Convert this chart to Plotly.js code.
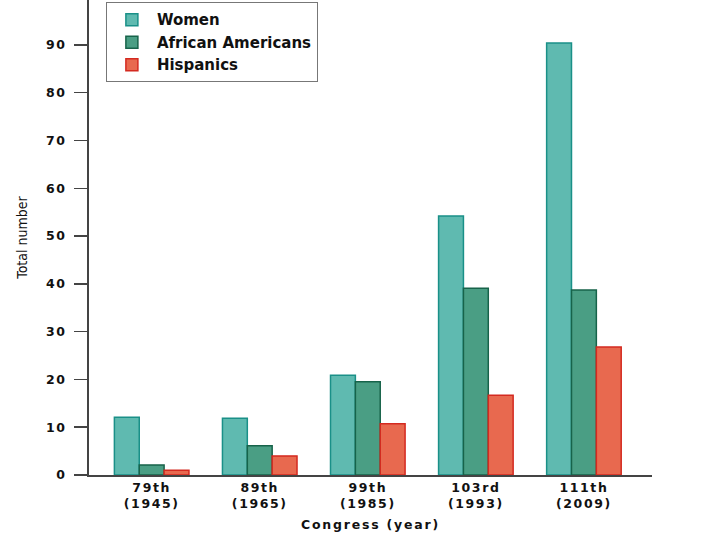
<!DOCTYPE html>
<html><head><meta charset="utf-8">
<script src="https://cdn.plot.ly/plotly-3.0.1.min.js"></script>
<style>
body{margin:0;background:#fff}
#chart .xtick text, #chart .ytick text{letter-spacing:1.6px}
#chart .xtitle{letter-spacing:1.8px}
</style>
</head><body>
<div id="chart" style="width:720px;height:540px"></div>
<script>
const categories = ["79th<br>(1945)", "89th<br>(1965)", "99th<br>(1985)", "103rd<br>(1993)", "111th<br>(2009)"];
const women = [12.1, 11.9, 20.9, 54.2, 90.4];
const africanAmericans = [2.1, 6.1, 19.5, 39.1, 38.7];
const hispanics = [1.0, 4.0, 10.7, 16.7, 26.8];
const yTicks = [0, 10, 20, 30, 40, 50, 60, 70, 80, 90, 100];

const fam = "DejaVu Sans, Verdana, sans-serif";
function series(name, y, fill, edge) {
  return {type: "bar", name: name, x: categories, y: y,
    marker: {color: fill, line: {color: edge, width: 1.5}}};
}
const data = [
  series("<b>Women</b>", women, "#5fbab0", "#1a9088"),
  series("<b>African Americans</b>", africanAmericans, "#4a9e84", "#17634a"),
  series("<b>Hispanics</b>", hispanics, "#e8694f", "#d42a20")
];
const layout = {
  width: 720, height: 540,
  margin: {l: 89, r: 68, t: 0, b: 65},
  paper_bgcolor: "#fff", plot_bgcolor: "#fff",
  barmode: "group", bargap: 0.31, bargroupgap: 0.0,
  font: {family: fam, size: 12, color: "#111"},
  showlegend: true,
  legend: {x: 0.03, y: 0.995, xanchor: "left", yanchor: "top",
    bordercolor: "#777", borderwidth: 1, bgcolor: "#fff",
    font: {family: fam, size: 15, color: "#111"},
    tracegroupgap: 0, itemwidth: 40},
  xaxis: {type: "category", range: [-0.58, 4.63], showline: true, linecolor: "#444", linewidth: 2,
    ticks: "", showgrid: false, zeroline: false,
    tickfont: {family: fam, size: 12.5, color: "#111", weight: "bold"},
    title: {text: "<b>Congress (year)</b>", standoff: 10,
      font: {family: fam, size: 12.5, color: "#111"}}},
  yaxis: {range: [0, 99.4], tickvals: yTicks, ticktext: yTicks.map(v => "<b>" + v + "</b>"),
    showline: true, linecolor: "#444", linewidth: 2,
    ticks: "outside", ticklen: 13, tickwidth: 1.5, tickcolor: "#444", ticklabelstandoff: 5,
    showgrid: false, zeroline: false,
    tickfont: {family: fam, size: 12.5, color: "#111"},
    title: {text: "Total number", standoff: 18,
      font: {family: "DejaVu Sans Condensed, Liberation Sans Narrow, DejaVu Sans, sans-serif", size: 14, color: "#111"}}}
};
Plotly.newPlot("chart", data, layout, {displayModeBar: false, staticPlot: true});
</script>
</body></html>
